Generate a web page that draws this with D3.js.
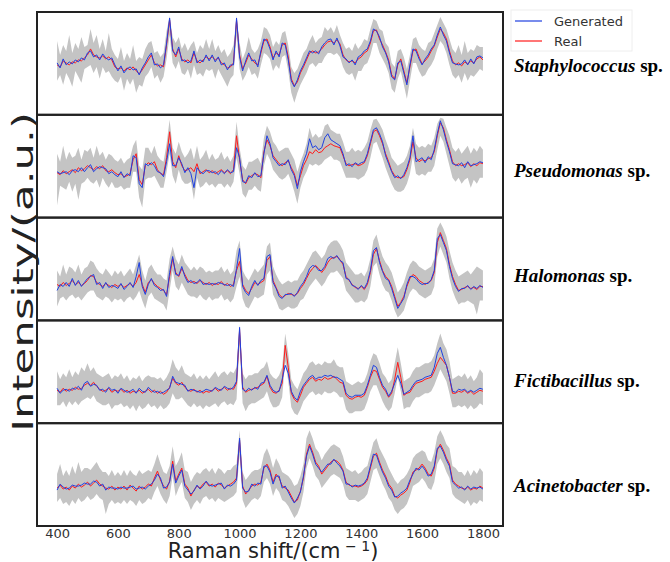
<!DOCTYPE html>
<html>
<head>
<meta charset="utf-8">
<script src="https://cdn.jsdelivr.net/npm/d3@7"></script>
<style>
  body { margin: 0; background: #fff; }
  .tick text { font-family: "DejaVu Sans", sans-serif; font-size: 13px; fill: #333; }
</style>
</head>
<body>
<svg id="chart" width="670" height="562"></svg>
<script>
// Raman shift grid (cm-1) and axis ticks
const shifts = d3.range(400, 1801, 10);
const shiftTicks = [400, 600, 800, 1000, 1200, 1400, 1600, 1800];
const species = ["Staphylococcus", "Pseudomonas", "Halomonas", "Fictibacillus", "Acinetobacter"];

// intensity (a.u.), one value every 10 cm-1 from 400 to 1800
const staphReal = [
  50,48,54,52,50,53,52,55,54,57, 60,66,60,58,57,59,56,58,55,48,
  46,47,44,47,45,48,44,41,45,50, 55,60,52,49,50,48,70,95,66,58,
  66,56,53,55,52,62,54,52,55,58, 56,58,55,57,52,50,47,48,52,95,
  60,46,52,60,56,52,50,62,74,76, 68,57,62,60,70,72,58,36,29,33,
  42,48,55,62,64,62,63,66,70,73, 74,72,75,71,60,55,53,54,52,56,
  58,62,64,72,84,85,76,70,63,55, 40,36,50,56,44,32,48,64,66,58,
  51,54,58,64,69,78,86,82,76,64, 54,50,52,49,53,51,54,52,56,58, 55];
const staphGen = [
  52,47,56,50,53,51,55,53,57,55, 62,64,58,60,55,61,57,55,57,50,
  44,49,42,46,48,45,46,40,47,52, 58,62,50,51,47,50,72,97,64,60,
  68,54,55,52,54,64,52,55,53,60, 54,60,53,58,50,52,45,50,50,97,
  58,44,54,62,54,55,48,64,76,74, 66,55,64,58,72,70,55,34,28,35,
  44,50,57,64,62,64,61,68,72,75, 76,70,77,69,58,56,52,55,50,58,
  60,64,66,74,86,84,78,68,62,53, 38,35,52,54,42,30,50,66,64,56,
  50,56,60,66,70,80,88,80,74,62, 52,51,50,51,55,50,56,51,58,59, 57];
const staphLo = [
  34,40,30,42,36,28,44,38,32,46, 48,50,42,48,36,48,42,44,38,34,
  32,38,24,36,30,36,22,30,28,38, 42,48,36,40,32,38,56,80,52,46,
  54,42,40,46,36,50,40,42,38,46, 44,46,36,46,40,34,28,36,40,80,
  46,34,40,48,40,42,36,50,62,60, 56,44,50,46,58,60,44,22,12,22,
  30,36,42,50,52,48,52,52,58,62, 62,60,62,58,48,42,40,42,34,44,
  44,50,52,60,72,72,62,56,50,42, 26,22,36,44,30,16,34,52,52,44,
  38,40,46,50,56,66,74,70,62,50, 40,36,40,32,42,34,40,38,42,46, 44];
const staphHi = [
  74,60,70,64,80,62,72,66,78,68, 70,86,72,80,66,76,64,82,66,60,
  56,68,54,62,56,70,54,58,56,66, 72,74,62,64,58,62,84,99,78,72,
  78,66,72,64,70,74,62,70,66,76, 66,76,64,70,62,66,58,62,70,99,
  72,56,64,78,66,62,66,74,88,86, 80,68,74,70,82,84,70,48,42,46,
  54,62,66,74,80,72,76,78,88,84, 88,82,90,80,72,66,68,64,72,66,
  70,76,74,86,96,94,86,84,72,68, 52,48,64,66,58,46,60,76,78,70,
  66,64,72,74,82,90,98,92,86,76, 66,62,70,60,74,62,66,64,70,68, 68];

const pseudoReal = [
  45,43,47,44,46,48,45,50,47,49, 52,50,48,51,49,52,47,46,48,45,
  43,44,41,42,44,58,64,38,33,52, 55,53,56,48,44,43,60,86,56,50,
  62,52,47,48,50,46,54,44,46,48, 45,47,44,46,48,45,47,44,48,82,
  58,38,34,40,42,44,43,40,66,78, 72,62,58,54,52,55,57,50,44,32,
  42,52,58,66,64,68,65,66,70,72, 74,72,71,70,62,54,52,53,54,52,
  53,55,62,74,86,88,82,74,64,56, 47,42,40,40,41,48,58,76,60,56,
  58,57,59,60,66,82,95,90,78,68, 56,52,54,52,53,55,51,54,52,55, 54];
const pseudoGen = [
  46,44,45,46,43,47,48,46,50,46, 50,53,46,49,51,50,49,44,46,43,
  41,46,40,44,42,62,60,34,30,54, 52,55,52,46,45,41,56,74,52,52,
  60,54,45,50,44,30,50,46,44,47, 47,45,46,43,47,44,48,45,46,70,
  60,36,35,42,40,45,41,42,64,82, 74,60,56,52,54,53,58,48,42,29,
  46,56,64,79,70,72,68,70,80,84, 78,76,74,72,64,52,54,51,55,53,
  55,56,64,76,88,90,84,76,62,54, 46,40,42,39,43,50,60,82,56,58,
  60,55,61,58,68,84,97,88,76,66, 54,53,52,55,50,56,52,53,54,56, 55];
const pseudoLo = [
  12,32,30,28,36,26,34,18,34,36, 40,36,34,38,30,40,34,30,36,30,
  30,32,28,30,30,46,46,20,10,38, 40,40,42,36,30,30,46,64,42,34,
  48,38,34,34,36,18,40,30,32,36, 32,34,30,34,34,30,34,30,36,60,
  44,24,20,28,28,32,28,26,52,64, 58,48,44,40,38,40,44,36,26,14,
  30,40,46,54,52,54,52,54,58,60, 62,58,58,56,48,40,40,40,40,38,
  40,42,48,60,74,76,68,60,50,42, 34,28,26,26,28,34,44,62,44,42,
  44,42,46,46,52,68,82,76,64,52, 40,36,40,34,38,40,30,38,34,40, 40];
const pseudoHi = [
  64,56,72,58,66,60,62,70,58,68, 66,70,60,72,62,66,58,64,62,58,
  56,60,54,58,60,72,78,52,48,70, 70,64,72,62,58,56,74,98,70,64,
  76,66,60,64,70,58,72,58,62,68, 58,64,58,60,66,58,62,56,62,96,
  70,52,48,56,56,58,60,54,80,92, 86,76,72,66,68,70,70,64,58,46,
  56,64,74,90,80,84,80,82,92,94, 88,86,84,84,76,66,66,70,66,68,
  66,70,76,88,98,99,94,88,78,70, 60,56,52,54,56,62,72,90,74,70,
  72,70,74,72,80,94,100,99,90,82, 70,66,70,64,68,72,64,70,66,72, 68];

const haloReal = [
  36,34,38,35,37,40,36,38,35,37, 40,45,44,38,36,34,37,35,33,36,
  34,36,33,35,37,34,38,46,36,28, 38,41,37,34,32,30,26,44,62,48,
  44,52,46,40,38,39,37,40,38,36, 38,35,37,36,39,35,37,34,36,50,
  59,36,30,27,32,38,36,38,40,60, 64,40,33,26,23,25,27,26,25,27,
  32,36,42,48,52,55,52,48,52,58, 62,63,64,61,56,44,40,36,33,32,
  34,31,36,48,66,72,60,50,44,41, 34,24,14,18,24,34,42,46,44,40,
  38,36,38,40,48,78,88,80,72,56, 44,36,30,31,33,34,32,33,31,34, 34];
const haloGen = [
  30,36,34,38,34,42,35,40,34,38, 42,44,46,36,38,32,38,33,35,34,
  32,37,31,34,38,33,44,58,34,26, 36,42,35,33,30,31,24,48,64,46,
  45,54,44,38,40,37,38,41,36,37, 36,37,36,38,37,36,35,36,34,52,
  72,34,28,25,34,40,35,40,42,64, 66,38,32,24,22,26,26,27,24,28,
  34,38,44,52,55,54,50,50,54,62, 64,62,65,60,58,42,41,35,34,31,
  35,32,38,50,70,73,58,49,42,40, 32,22,12,17,22,36,44,44,42,38,
  36,37,37,41,50,82,86,78,70,54, 42,34,29,32,32,35,31,34,32,35, 33];
const haloLo = [
  14,22,24,20,24,26,22,24,20,24, 28,30,30,24,22,20,24,22,18,22,
  20,22,18,22,24,20,24,30,20,12, 24,28,22,20,18,16,10,30,50,34,
  30,38,32,26,24,24,22,26,22,20, 24,20,22,22,26,20,22,18,22,34,
  44,22,14,12,18,24,22,24,26,46, 50,26,20,12,10,12,14,12,12,14,
  20,22,28,34,38,42,38,34,38,44, 48,48,50,46,42,30,26,22,18,18,
  20,18,22,34,54,58,46,36,30,28, 20,10,3,6,10,20,28,32,30,26,
  24,22,24,26,34,64,74,66,58,42, 30,22,16,18,18,20,18,16,6,20, 20];
const haloHi = [
  50,44,56,46,54,52,48,56,46,52, 54,60,58,52,48,46,52,48,44,50,
  46,50,44,48,52,46,56,66,50,40, 52,56,50,46,46,42,40,62,74,62,
  56,66,58,54,50,54,50,54,52,48, 50,48,50,50,54,48,52,46,50,70,
  80,50,44,40,46,52,48,52,56,74, 78,54,46,40,36,38,40,38,40,40,
  46,50,56,62,68,70,66,62,66,74, 78,80,80,76,70,58,54,50,46,46,
  48,44,50,62,80,86,74,64,58,54, 48,38,28,32,38,48,56,60,58,54,
  52,50,52,54,62,92,98,92,84,70, 58,50,44,46,48,50,46,50,54,52, 50];

const fictiReal = [
  33,31,35,32,34,33,36,34,35,38, 40,38,41,37,34,32,33,35,31,33,
  32,34,31,33,30,32,31,33,30,32, 34,31,33,30,32,29,31,36,45,40,
  38,41,36,33,32,34,31,33,30,32, 31,33,35,32,34,36,33,35,34,40,
  94,36,31,33,34,35,36,38,40,47, 36,31,30,33,40,78,56,30,24,21,
  28,36,40,44,46,42,44,43,46,44, 45,47,44,41,40,28,25,24,26,27,
  26,28,36,46,53,52,44,36,32,26, 30,44,61,46,28,30,31,36,40,41,
  42,44,45,46,52,60,66,62,58,46, 30,30,32,31,33,30,32,29,31,33, 32];
const fictiGen = [
  35,30,33,34,32,35,34,37,33,40, 42,37,39,38,33,34,31,36,33,34,
  30,35,33,31,32,34,30,35,32,31, 36,33,31,32,30,31,33,35,47,41,
  40,39,38,32,34,33,32,31,32,34, 33,32,36,34,33,37,35,34,36,42,
  96,34,32,35,33,36,34,40,41,48, 38,33,31,32,44,58,50,32,26,23,
  32,38,42,46,48,44,46,46,48,47, 48,46,46,44,42,30,27,26,28,28,
  28,30,38,48,58,56,46,38,34,27, 32,40,48,40,29,31,33,38,42,43,
  44,46,47,48,56,70,76,66,58,46, 32,31,34,33,34,31,33,31,33,35, 34];
const fictiLo = [
  18,18,22,16,22,18,22,18,22,24, 26,24,28,22,20,18,18,20,14,18,
  18,20,16,18,14,18,12,18,14,16, 20,16,18,14,18,14,16,20,30,24,
  24,26,22,18,16,20,16,18,14,18, 16,18,20,16,20,22,18,20,18,24,
  78,20,12,18,20,20,22,24,26,32, 22,16,16,18,26,62,42,16,10,8,
  14,22,26,30,32,28,30,28,32,30, 30,32,30,26,26,14,10,10,12,12,
  12,14,22,32,38,38,30,22,16,12, 16,30,46,32,14,16,16,22,26,26,
  28,30,30,32,38,46,54,48,42,30, 16,16,18,16,18,14,18,14,16,20, 18];
const fictiHi = [
  52,44,50,46,54,46,52,48,56,52, 60,52,56,50,48,46,48,50,44,48,
  46,50,44,48,42,46,44,48,42,46, 48,46,46,44,46,42,46,52,64,56,
  52,58,50,48,46,50,44,48,44,48, 44,48,52,46,50,52,48,52,50,56,
  99,50,44,48,48,50,50,54,56,62, 50,46,44,48,56,90,70,44,38,34,
  42,50,54,60,62,58,60,58,62,60, 60,64,58,56,56,42,40,38,40,42,
  40,42,50,62,70,68,60,50,46,40, 44,60,76,60,42,44,46,52,56,56,
  58,60,60,62,68,80,90,80,74,62, 44,46,48,46,50,44,48,42,46,54, 50];

const acinReal = [
  38,41,37,39,36,40,38,42,39,41, 44,40,43,46,42,40,38,37,40,36,
  39,37,40,36,41,38,35,40,37,39, 42,40,48,55,46,40,37,45,65,45,
  52,58,42,38,30,36,40,38,42,44, 40,42,39,43,41,38,40,42,44,48,
  86,40,32,36,40,42,41,44,58,62, 56,44,52,48,40,38,36,30,24,26,
  35,48,72,82,74,64,60,52,56,60, 64,66,65,62,56,44,41,40,40,39,
  40,42,46,58,70,73,64,56,50,42, 38,30,28,31,33,36,44,54,56,58,
  62,58,52,50,58,76,82,76,68,62, 46,42,40,38,37,39,36,38,37,40, 38];
const acinGen = [
  36,42,39,37,38,41,40,40,41,43, 42,42,45,44,40,42,36,39,38,38,
  37,39,38,38,39,40,37,38,39,37, 40,42,46,52,48,38,39,44,62,43,
  50,56,40,36,32,35,41,37,40,45, 41,40,41,42,43,37,41,40,42,46,
  88,38,34,35,42,40,43,42,60,60, 54,42,50,50,38,40,34,28,23,28,
  34,50,70,80,72,62,58,54,58,62, 62,67,63,60,55,42,42,39,41,40,
  41,43,48,60,72,71,62,54,48,40, 36,29,30,33,35,38,46,52,58,56,
  60,56,50,52,60,78,80,74,66,60, 44,41,38,39,36,40,37,39,38,39, 37];
const acinLo = [
  24,28,22,24,20,26,22,28,24,26, 30,26,28,32,28,26,12,22,26,22,
  24,22,26,22,26,24,20,26,22,24, 28,26,34,40,32,26,22,30,50,30,
  38,44,28,24,16,22,26,22,28,30, 26,28,24,28,26,24,26,28,30,34,
  72,26,18,22,26,28,26,30,44,48, 42,30,38,34,26,24,20,14,8,12,
  20,34,58,68,60,50,46,38,42,46, 50,52,50,48,42,30,26,26,26,24,
  26,28,32,44,56,58,50,42,36,28, 24,16,12,16,18,22,30,40,42,44,
  48,44,38,36,44,62,68,62,54,48, 32,28,26,24,22,26,20,24,22,26, 24];
const acinHi = [
  52,62,50,56,50,60,52,64,54,58, 58,56,60,64,58,54,54,50,56,50,
  54,50,56,50,56,52,50,56,52,54, 56,54,62,72,62,54,52,60,80,60,
  66,74,56,54,44,50,54,52,56,58, 54,58,52,58,56,52,56,56,60,62,
  96,54,46,50,54,56,56,58,72,78, 70,58,68,62,54,52,50,46,40,42,
  50,62,88,96,88,78,74,66,72,76, 80,82,80,78,70,58,56,54,56,52,
  54,58,60,72,84,88,78,72,66,58, 52,46,42,46,48,52,58,68,72,74,
  76,74,66,64,74,90,96,90,82,78, 60,58,54,54,50,56,50,56,52,58, 54];

const panels = [
  { name: species[0], real: staphReal, gen: staphGen, lo: staphLo, hi: staphHi },
  { name: species[1], real: pseudoReal, gen: pseudoGen, lo: pseudoLo, hi: pseudoHi },
  { name: species[2], real: haloReal, gen: haloGen, lo: haloLo, hi: haloHi },
  { name: species[3], real: fictiReal, gen: fictiGen, lo: fictiLo, hi: fictiHi },
  { name: species[4], real: acinReal, gen: acinGen, lo: acinLo, hi: acinHi },
];

const svg = d3.select("#chart");
const plotLeft = 37, plotRight = 503, plotTop = 12, plotBottom = 526;
const blue = "#1f40e0";
const red = "#ff1a1a";

const x = d3.scaleLinear().domain([334, 1866]).range([plotLeft, plotRight]);
const row = d3.scaleBand().domain(species).range([plotTop, plotBottom]);
const rowH = row.bandwidth();

panels.forEach((p, k) => {
  const y0 = row(p.name);
  const y = d3.scaleLinear().domain([0, 103]).range([y0 + rowH, y0]);

  svg.append("clipPath")
    .attr("id", "clip" + k)
    .append("rect")
    .attr("x", plotLeft).attr("y", y0)
    .attr("width", plotRight - plotLeft).attr("height", rowH);

  const g = svg.append("g").attr("clip-path", `url(#clip${k})`);

  const band = d3.area()
    .x((d, i) => x(shifts[i]))
    .y0((d, i) => y(p.lo[i]))
    .y1((d, i) => y(p.hi[i]));

  const line = d3.line()
    .x((d, i) => x(shifts[i]))
    .y((d) => y(d));

  g.append("path").datum(p.lo).attr("d", band).attr("fill", "#c4c4c4");
  g.append("path").datum(p.real).attr("d", line)
    .attr("fill", "none").attr("stroke", red).attr("stroke-width", 1);
  g.append("path").datum(p.gen).attr("d", line)
    .attr("fill", "none").attr("stroke", blue).attr("stroke-width", 1);

  svg.append("rect")
    .attr("x", plotLeft).attr("y", y0)
    .attr("width", plotRight - plotLeft).attr("height", rowH)
    .attr("fill", "none").attr("stroke", "#222").attr("stroke-width", 2);

  // species name, drifting slightly lower in each panel as in the figure
  const label = svg.append("text")
    .attr("x", 514)
    .attr("y", y0 + rowH / 2 + 9 + k * 2.2)
    .attr("font-family", "'Liberation Serif', 'Times New Roman', serif")
    .attr("font-size", 19)
    .attr("font-weight", "bold")
    .attr("fill", "#000");
  label.append("tspan").attr("font-style", "italic").text(p.name);
  label.append("tspan").text(" sp.");
});

// x axis, labels only
const xAxis = d3.axisBottom(x)
  .tickValues(shiftTicks)
  .tickFormat(d3.format("d"))
  .tickSize(0)
  .tickPadding(3);
svg.append("g")
  .attr("transform", `translate(0,${plotBottom})`)
  .call(xAxis)
  .call((g) => g.select(".domain").remove());

const xLabel = svg.append("text")
  .attr("x", 273).attr("y", 558)
  .attr("text-anchor", "middle")
  .attr("font-family", "'DejaVu Sans', sans-serif")
  .attr("font-size", 21)
  .attr("fill", "#222");
xLabel.append("tspan").text("Raman shift/(cm");
xLabel.append("tspan").attr("font-size", 14).attr("dy", -7).text(" \u2212 1");
xLabel.append("tspan").attr("dy", 7).text(")");

svg.append("text")
  .attr("transform", "translate(33,272) rotate(-90) scale(1.5,1)")
  .attr("text-anchor", "middle")
  .attr("font-family", "'DejaVu Sans', sans-serif")
  .attr("font-size", 29)
  .attr("fill", "#222")
  .text("Intensity/(a.u.)");

// legend
const legendItems = [
  { label: "Generated", color: blue },
  { label: "Real", color: red },
];
const legend = svg.append("g").attr("transform", "translate(511,10)");
legend.append("rect")
  .attr("width", 121).attr("height", 41)
  .attr("fill", "#fff").attr("stroke", "#eee").attr("stroke-width", 1);
legendItems.forEach((d, i) => {
  const item = legend.append("g").attr("transform", `translate(0,${11 + i * 20})`);
  item.append("line")
    .attr("x1", 4).attr("x2", 31)
    .attr("stroke", d.color).attr("stroke-width", 1.2);
  item.append("text")
    .attr("x", 43).attr("y", 5)
    .attr("font-family", "'DejaVu Sans', sans-serif")
    .attr("font-size", 13)
    .attr("fill", "#333")
    .text(d.label);
});
</script>
</body>
</html>
